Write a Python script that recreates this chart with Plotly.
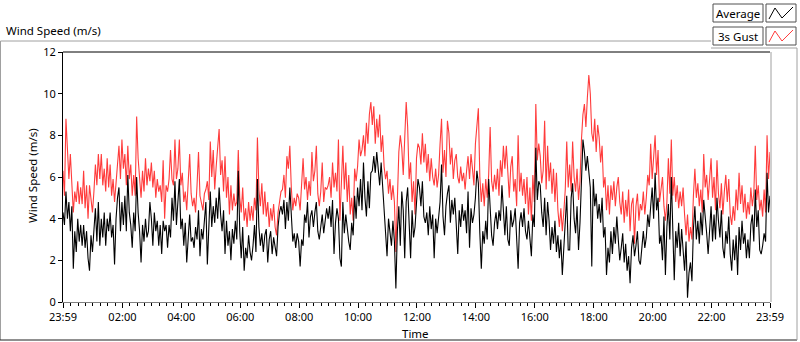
import plotly.graph_objects as go
import pandas as pd

# ---- data (3-minute-ish samples, m/s) ----
avg = [
    4.3,3.7,5.3,4.0,4.8,3.4,4.6,1.6,3.4,2.4, 4.0,2.9,3.7,2.7,3.7,2.6,3.4,2.1,1.5,3.2,
    2.4,3.4,4.5,2.9,4.8,2.7,4.0,3.1,4.3,2.7, 4.0,3.4,4.3,3.1,3.7,1.8,4.0,5.0,5.5,3.4,
    4.8,3.7,5.1,3.4,6.1,4.3,3.7,2.6,4.3,3.4, 6.0,4.3,3.4,1.9,3.7,2.9,4.0,3.1,3.4,4.8,
    4.0,2.7,4.3,3.4,3.9,2.7,3.7,2.3,3.9,3.4, 3.7,2.6,3.7,3.1,5.0,3.9,5.8,3.7,
    4.6,5.9,3.5,4.0,2.7,3.8,1.9,3.4,4.2,2.9, 3.1,2.6,3.6,3.0,4.4,2.2,3.5,3.0,4.0,4.8,
    1.8,4.0,5.3,3.6,4.6,3.8,5.0,4.0,5.5,4.2, 3.4,4.4,2.3,3.9,2.7,3.4,2.0,3.5,2.8,3.9,
    3.0,6.3,3.4,2.1,3.6,1.5,2.6,2.1,3.2,2.4, 2.0,2.7,3.7,2.4,5.9,3.6,2.7,3.3,2.4,3.2,
    3.5,1.9,3.0,3.4,2.3,3.1,2.6,2.2,3.6,4.3, 4.6,4.2,4.9,3.5,4.8,3.9,5.5,3.8,2.9,3.3,
    2.6,3.3,
    2.9,1.7,3.0,2.7,4.2,3.8,4.8,3.1,4.1,4.4, 3.6,4.3,4.8,3.4,3.0,3.6,4.2,3.3,3.9,4.5,
    4.0,4.6,3.6,4.9,2.3,3.8,4.5,4.0,2.1,1.7, 4.8,3.3,4.2,3.5,2.9,2.5,3.8,3.2,5.1,4.0,
    5.5,4.6,5.9,4.4,6.7,5.0,4.1,5.8,4.5,6.2, 6.3,7.0,6.2,7.2,6.4,5.6,6.7,5.7,4.6,3.6,
    2.2,4.0,3.2,2.7,3.9,2.9,0.65,3.4,4.6,2.7, 5.3,4.4,2.1,4.8,5.5,4.0,2.1,4.4,3.1,3.6,
    5.0,5.9,
    5.5,4.6,5.8,4.1,3.8,4.3,3.2,4.6,3.5,4.2, 2.1,4.0,3.3,3.9,4.8,6.6,4.1,3.2,4.6,5.2,
    5.6,3.8,4.9,4.2,5.0,3.7,2.3,4.4,3.6,4.7, 3.9,4.4,3.3,5.3,2.6,4.5,3.8,4.2,5.0,6.3,
    5.7,3.3,1.6,3.4,2.8,3.9,3.0,5.9,4.6,3.2, 2.7,3.8,4.3,3.5,4.4,3.9,5.6,4.1,3.2,4.6,
    3.0,2.7,4.4,3.6,3.9,4.5,2.9,1.6,3.8,4.3, 3.6,4.5,3.4,3.0,3.9,2.8,2.2,4.2,3.6,7.4,
    4.9,5.8,
    5.6,4.3,3.6,5.0,3.2,4.8,3.9,2.5,3.6,2.8, 3.9,2.4,3.2,2.1,3.0,1.3,2.6,4.4,5.1,2.5,
    2.5,5.0,5.7,4.0,3.3,4.6,2.5,3.8,5.8,7.8, 7.2,6.3,7.0,6.1,5.5,1.7,5.9,4.6,5.2,4.0,
    4.7,3.8,5.0,3.1,3.6,1.3,2.6,1.9,3.4,2.3, 3.6,2.8,4.1,3.0,2.0,2.6,3.3,1.9,2.8,1.5,
    2.2,0.9,2.6,3.2,2.2,2.7,3.4,2.0,1.8,2.6, 3.4,2.6,3.1,4.2,3.6,4.6,5.5,4.0,6.2,4.4,
    5.0,2.8,
    3.2,2.0,4.1,1.3,3.6,4.7,3.0,6.0,3.2,1.05, 3.4,2.6,3.8,2.2,3.5,2.4,1.5,2.9,0.2,1.4,
    1.9,1.0,3.5,4.6,3.0,3.9,2.8,4.3,3.2,4.9, 4.2,3.3,2.3,3.8,4.6,2.9,4.2,3.0,5.0,3.9,
    3.1,4.4,2.6,2.1,3.4,2.8,4.1,2.3,1.5,3.0, 2.0,3.2,1.3,3.6,2.5,3.9,2.8,3.3,2.1,3.0,
    2.1,3.7,4.2,2.9,5.4,3.6,4.4,2.5,2.3,2.7, 3.3,2.9,6.2,4.3,5.1,
]

gust = [
    6.3,5.1,8.8,7.5,5.9,7.1,5.8,4.3,5.3,4.8, 5.8,4.7,5.5,4.7,6.3,4.5,5.6,4.0,5.6,4.8,
    4.3,5.3,6.6,5.6,7.1,5.9,7.1,5.6,6.4,5.3, 6.9,5.5,6.6,5.1,5.9,4.8,5.6,6.4,7.5,5.9,
    7.8,6.4,7.1,5.6,7.5,5.9,6.6,5.1,6.1,5.1, 8.9,6.9,5.9,5.0,6.3,5.3,6.9,5.6,6.4,5.8,
    6.7,5.5,6.3,5.0,5.9,5.3,5.6,4.8,6.8,4.0, 5.6,5.3,5.9,7.3,5.9,5.6,7.8,5.9,
    6.4,7.8,5.6,6.2,4.8,5.3,4.4,6.0,7.1,5.2, 4.6,5.0,4.3,5.6,7.2,5.1,4.8,4.4,5.2,5.4,
    5.8,4.9,7.7,6.0,7.3,5.4,6.5,7.3,8.3,6.1, 6.8,5.3,7.0,5.0,6.0,4.2,5.6,4.4,5.2,4.6,
    4.8,7.3,5.0,4.3,5.5,3.9,4.5,3.6,4.8,3.9, 4.6,3.9,5.0,4.4,7.9,5.4,4.6,5.7,4.2,5.3,
    4.1,4.8,3.6,4.5,3.9,4.7,3.6,3.2,4.3,4.8, 5.3,5.4,6.1,5.0,7.0,6.4,7.5,5.5,4.4,5.0,
    4.6,5.2,
    5.0,4.4,5.5,6.9,5.4,6.0,4.9,5.8,5.1,7.2, 5.8,6.3,7.5,5.2,4.6,5.3,6.7,4.8,5.5,5.4,
    5.6,6.0,5.0,6.7,5.5,6.2,5.3,7.8,3.9,6.0, 7.5,5.4,6.7,4.8,6.1,4.2,5.0,3.9,6.4,5.8,
    6.5,7.8,7.0,7.3,8.0,7.0,8.6,7.6,9.0,9.6, 8.5,9.4,7.6,8.8,7.9,9.0,7.2,8.0,6.5,5.9,
    6.3,5.2,5.9,4.9,5.6,4.8,2.4,4.9,7.2,8.0, 7.4,6.1,8.2,9.6,8.4,5.9,6.7,4.8,5.8,4.2,
    6.9,7.6,
    7.4,6.6,8.1,6.7,7.6,6.2,7.1,5.8,6.9,6.0, 5.6,6.4,5.5,6.1,7.6,8.8,6.2,7.3,6.0,8.7,
    8.1,6.6,7.4,5.9,6.8,7.1,6.0,5.7,6.5,5.8, 6.2,5.4,6.3,7.0,5.9,7.1,6.4,5.6,7.6,8.4,
    9.3,6.0,4.8,5.7,4.6,5.9,5.0,6.1,8.4,5.8, 5.3,6.1,5.4,6.4,5.1,6.8,6.0,7.5,6.4,7.5,
    6.1,5.0,6.5,7.0,5.3,5.9,4.6,8.0,5.3,6.2, 5.1,5.9,4.7,6.0,4.2,5.5,3.9,6.1,4.8,9.5,
    6.8,7.6,
    7.0,5.7,6.3,8.7,5.4,7.5,5.8,6.7,5.2,6.4, 4.8,6.2,4.4,3.6,4.5,3.4,4.3,5.4,7.7,5.5,
    6.6,5.3,7.7,6.0,5.3,6.4,4.9,5.8,7.8,9.0, 9.5,8.4,9.8,10.9,10.0,8.1,7.7,8.8,7.2,8.5,
    7.9,6.7,7.5,5.5,6.0,4.4,5.6,4.2,5.6,4.9, 5.8,4.6,5.5,6.0,4.8,4.2,5.3,3.8,4.9,4.1,
    5.4,3.4,4.7,5.0,2.8,4.6,5.2,3.9,4.7,4.4, 5.3,4.2,5.0,6.1,5.6,7.6,5.9,6.8,8.0,6.1,
    7.3,4.8,
    5.4,6.0,4.6,3.9,4.8,6.9,5.2,7.8,5.1,6.0, 4.8,5.6,4.5,5.3,4.6,5.5,4.2,3.2,4.2,2.9,
    3.6,3.0,5.1,6.4,5.0,5.7,4.6,5.4,4.3,7.1, 5.5,6.1,4.9,5.7,6.9,5.0,6.0,4.4,6.8,5.2,
    4.5,5.7,4.2,5.3,6.1,4.8,5.9,4.2,3.7,4.6, 3.9,5.4,4.4,6.2,4.7,5.6,4.3,5.2,4.0,4.8,
    4.2,5.5,4.6,5.2,7.5,4.9,5.6,4.4,4.9,4.1, 5.4,4.3,8.0,5.9,7.2,
]

start = "2000-01-01 23:59"
end = "2000-01-02 23:59"
tick_labels = ["23:59", "02:00", "04:00", "06:00", "08:00", "10:00", "12:00",
               "14:00", "16:00", "18:00", "20:00", "22:00", "23:59"]
y_ticks = [0, 2, 4, 6, 8, 10, 12]

n = min(len(avg), len(gust))
avg, gust = avg[:n], gust[:n]
time = pd.date_range(start, end, periods=n)
tick_vals = ([pd.Timestamp(start)]
             + [pd.Timestamp("2000-01-02") + pd.Timedelta(hours=h) for h in range(2, 24, 2)]
             + [pd.Timestamp(end)])

# ---- layout geometry (pixels) ----
W, H = 800, 342
L, R, T, B = 63, 30, 52, 40
PW, PH = W - L - R, H - T - B


def fx(p):
    return (p - L) / PW


def fy(p):
    return (H - B - p) / PH


FONT = "Noto Sans"

fig = go.Figure()
fig.add_trace(go.Scatter(x=time, y=gust, mode="lines", name="3s Gust",
                         line=dict(color="#ff3b3b", width=1.1)))
fig.add_trace(go.Scatter(x=time, y=avg, mode="lines", name="Average",
                         line=dict(color="#000000", width=1.1)))

shapes = []


def line(x0, y0, x1, y1, color, width=1):
    shapes.append(dict(type="line", xref="paper", yref="paper",
                       x0=fx(x0), y0=fy(y0), x1=fx(x1), y1=fy(y1),
                       line=dict(color=color, width=width)))


def rect(x0, y0, x1, y1, color):
    shapes.append(dict(type="rect", xref="paper", yref="paper",
                       x0=fx(x0), y0=fy(y0), x1=fx(x1), y1=fy(y1),
                       line=dict(color=color, width=1), fillcolor="white"))


def zig(pts, color):
    d = "M " + " L ".join(f"{fx(a):.5f},{fy(b):.5f}" for a, b in pts)
    shapes.append(dict(type="path", xref="paper", yref="paper", path=d,
                       line=dict(color=color, width=1)))


# outer frame
line(0.5, 41, 711, 41, "#a0a0a0")
line(0.5, 41, 0.5, 340, "#a0a0a0")
line(0, 340, 797, 340, "#202020")
line(711, 48, 797, 48, "#a0a0a0")
line(797, 48, 797, 340, "#a0a0a0")
# plot area top / right border
line(L, T, L + PW, T, "#000000")
line(L + PW + 1, T, L + PW + 1, H - B, "#a0a0a0")

# legend
rect(713, 4, 763, 22, "#505050")
rect(766, 4, 796, 22, "#505050")
rect(713, 27, 763, 45, "#505050")
rect(766, 27, 796, 45, "#505050")
zig([(769, 19), (775, 8), (782, 18), (793, 7)], "#000000")
zig([(769, 42), (775, 31), (782, 41), (793, 30)], "#ff3b3b")

annotations = [
    dict(text="Average", x=fx(738), y=fy(13.5), xref="paper", yref="paper",
         showarrow=False, xanchor="center", yanchor="middle",
         font=dict(family=FONT, size=11.5, color="black")),
    dict(text="3s Gust", x=fx(738), y=fy(36.5), xref="paper", yref="paper",
         showarrow=False, xanchor="center", yanchor="middle",
         font=dict(family=FONT, size=11.5, color="black")),
    dict(text="Wind Speed (m/s)", x=fx(4), y=fy(31), xref="paper", yref="paper",
         showarrow=False, xanchor="left", yanchor="middle",
         font=dict(family=FONT, size=11.5, color="black")),
    dict(text="Wind Speed (m/s)", x=fx(32), y=fy(176), xref="paper", yref="paper",
         showarrow=False, xanchor="center", yanchor="middle", textangle=-90,
         font=dict(family=FONT, size=11.5, color="black")),
    dict(text="Time", x=fx(415), y=fy(333), xref="paper", yref="paper",
         showarrow=False, xanchor="center", yanchor="middle",
         font=dict(family=FONT, size=11.5, color="black")),
]

fig.update_layout(
    width=W, height=H,
    margin=dict(l=L, r=R, t=T, b=B, pad=0),
    paper_bgcolor="white", plot_bgcolor="white",
    showlegend=False,
    shapes=shapes, annotations=annotations,
    xaxis=dict(type="date", range=[start, end], tickmode="array",
               tickvals=tick_vals, ticktext=tick_labels,
               ticks="outside", ticklen=5, tickcolor="black", tickwidth=1,
               showline=True, linecolor="#808080", linewidth=1,
               showgrid=False, zeroline=False,
               tickfont=dict(family=FONT, size=11, color="black"),
               minor=dict(tickmode="linear", tick0="2000-01-02 00:00",
                          dtick=900000, ticks="outside", ticklen=3,
                          tickcolor="black", tickwidth=1, showgrid=False)),
    yaxis=dict(range=[0, 12], tickmode="array", tickvals=y_ticks,
               ticks="outside", ticklen=4, tickcolor="black",
               showline=True, linecolor="black", linewidth=1,
               showgrid=False, zeroline=False,
               tickfont=dict(family=FONT, size=11, color="black")),
)

fig.write_html(
    "out.html",
    config={"displayModeBar": False},
    post_script="document.body.style.margin='0';document.body.style.overflow='hidden';",
)
